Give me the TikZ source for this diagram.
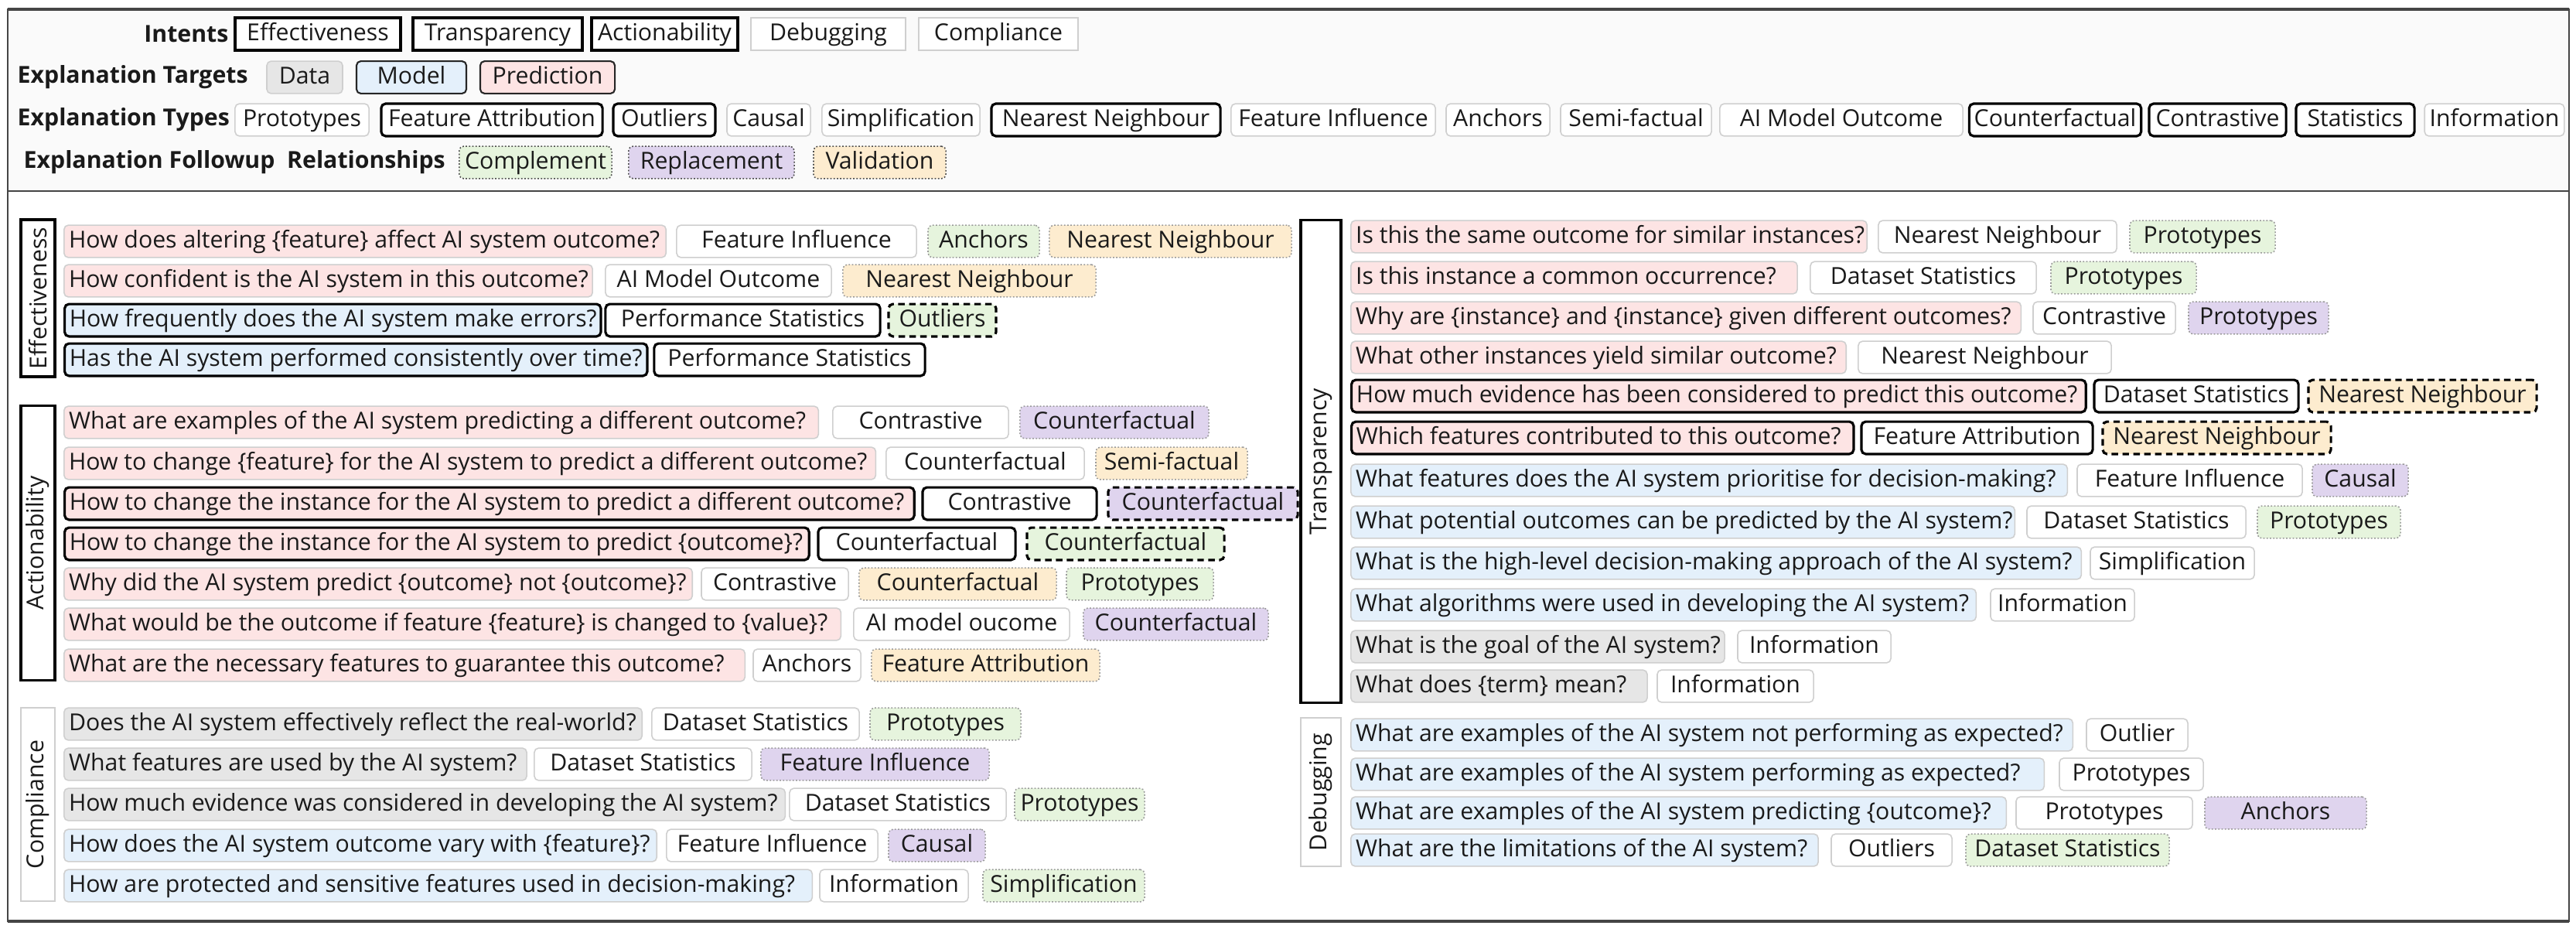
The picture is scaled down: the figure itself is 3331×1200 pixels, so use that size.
\documentclass[tikz,border=0pt]{standalone}
\usepackage{fontspec}
\setmainfont{Open Sans}
\definecolor{pinkc}{HTML}{FDE4E4}
\definecolor{bluec}{HTML}{E4F0FB}
\definecolor{grayc}{HTML}{E6E6E6}
\definecolor{greenc}{HTML}{E6F4DD}
\definecolor{purplec}{HTML}{DFD4EE}
\definecolor{orangec}{HTML}{FDECCF}
\definecolor{lineg}{HTML}{CFCFCF}
\definecolor{dotg}{HTML}{9A9A9A}
\definecolor{txt}{HTML}{1A1A1A}
\definecolor{topbg}{HTML}{FAFAFA}
\definecolor{framec}{HTML}{454545}
\tikzset{
  base/.style={rounded corners=1.6pt, inner xsep=1.8pt, inner ysep=0pt, minimum height=11.9pt,
    text height=6.5pt, text depth=1.9pt, draw=lineg, line width=0.45pt, fill=white, text=txt,
    font=\fontsize{8.6pt}{10pt}\selectfont},
  fpk/.style={fill=pinkc},
  fbl/.style={fill=bluec},
  fgy/.style={fill=grayc},
  fgn/.style={fill=greenc, draw=dotg, dash pattern=on 0.5pt off 0.7pt},
  fpu/.style={fill=purplec, draw=dotg, dash pattern=on 0.5pt off 0.7pt},
  fog/.style={fill=orangec, draw=dotg, dash pattern=on 0.5pt off 0.7pt},
  thk/.style={draw=black, line width=0.9pt},
  dsh/.style={draw=black, line width=0.9pt, dash pattern=on 2.4pt off 1.6pt},
  sq/.style={sharp corners},
  vbox/.style={draw=lineg, line width=0.45pt, fill=white, inner sep=0pt, text=txt,
    font=\fontsize{8.6pt}{10pt}\selectfont},
  lab/.style={inner sep=0pt, text=txt, font=\fontsize{8.6pt}{10pt}\selectfont\bfseries},
}
\newcommand\QB[6]{\pgfmathsetmacro\bwid{(#3-#2)*0.284528}\pgfmathsetmacro\twid{\bwid-3.6}%
  \node[base,#5,minimum width=\bwid pt,anchor=west] (#1) at (#2,#4) {\makebox[\twid pt][l]{#6}};}
\newcommand\AB[6]{\pgfmathsetmacro\bwid{(#3-#2)*0.284528}%
  \node[base,#5,minimum width=\bwid pt] (#1) at ({(#2+#3)/2},#4) {#6};}
\newcommand\VB[7]{\pgfmathsetmacro\bwid{(#5-#4)*0.284528}\pgfmathsetmacro\bhgt{(#3-#2)*0.284528}%
  \node[vbox,#6,minimum width=\bwid pt,minimum height=\bhgt pt,rotate=90] (#1) at ({(#2+#3)/2},{(#4+#5)/2}) {#7};}
\begin{document}
\begin{tikzpicture}[x=0.01cm,y=-0.01cm]
\useasboundingbox (0,0) rectangle (3331,1200);
\fill[white] (0,0) rectangle (3331,1200);
\fill[topbg] (10,12) rectangle (3322,247);
\draw[framec, line width=0.45pt] (10,12) rectangle (3322,1191);
\draw[framec, line width=1.1pt] (10,12) -- (3322,12);
\draw[framec, line width=1.1pt] (10,1191) -- (3322,1191);
\draw[framec, line width=0.45pt] (10,247) -- (3322,247);

% ---------------- legend ----------------
\node[lab,anchor=east] (lint) at (296,44) {Intents};
\AB{iE}{304}{518}{44}{thk,sq}{Effectiveness}
\AB{iT}{534}{753}{44}{thk,sq}{Transparency}
\AB{iA}{765}{954}{44}{thk,sq}{Actionability}
\AB{iD}{971}{1171}{44}{sq}{Debugging}
\AB{iC}{1188}{1394}{44}{sq}{Compliance}

\node[lab,anchor=west] (ltar) at (22,100) {Explanation Targets};
\AB{tD}{345}{443}{100}{fgy}{Data}
\AB{tM}{461}{603}{100}{fbl,draw=black!85,line width=0.6pt}{Model}
\AB{tP}{621}{795}{100}{fpk,draw=black!85,line width=0.6pt}{Prediction}

\node[lab,anchor=west] (ltyp) at (22,155) {Explanation Types};
\AB{y1}{304}{477}{155}{}{Prototypes}
\AB{y2}{493}{779}{155}{thk}{Feature Attribution}
\AB{y3}{793}{925}{155}{thk}{Outliers}
\AB{y4}{940}{1048}{155}{}{Causal}
\AB{y5}{1063}{1267}{155}{}{Simplification}
\AB{y6}{1282}{1578}{155}{thk}{Nearest Neighbour}
\AB{y7}{1592}{1856}{155}{}{Feature Influence}
\AB{y8}{1870}{2004}{155}{}{Anchors}
\AB{y9}{2018}{2213}{155}{}{Semi-factual}
\AB{y10}{2224}{2538}{155}{}{AI Model Outcome}
\AB{y11}{2548}{2767}{155}{thk}{Counterfactual}
\AB{y12}{2779}{2956}{155}{thk}{Contrastive}
\AB{y13}{2969}{3122}{155}{thk}{Statistics}
\AB{y14}{3137}{3314}{155}{}{Information}

\node[lab,anchor=west] (lfol) at (30,210) {Explanation Followup\ \ Relationships};
\AB{fC}{594}{791}{210}{fgn,draw=black!70}{Complement}
\AB{fR}{813}{1027}{210}{fpu,draw=black!70}{Replacement}
\AB{fV}{1052}{1223}{210}{fog,draw=black!70}{Validation}

% ---------------- left panel ----------------
\VB{vE}{27}{71}{284}{487}{thk}{Effectiveness}
\VB{vA}{27}{71}{525}{879}{thk}{Actionability}
\VB{vC}{27}{71}{915}{1165}{}{Compliance}

\QB{e1q}{82}{860}{312}{fpk}{How does altering \{feature\} affect AI system outcome?}
\AB{e1a}{875}{1185}{312}{}{Feature Influence}
\AB{e1b}{1200}{1344}{312}{fgn}{Anchors}
\AB{e1c}{1357}{1670}{312}{fog}{Nearest Neighbour}

\QB{e2q}{82}{765}{363}{fpk}{How confident is the AI system in this outcome?}
\AB{e2a}{783}{1075}{363}{}{AI Model Outcome}
\AB{e2b}{1090}{1417}{363}{fog}{Nearest Neighbour}

\QB{e3q}{82}{775}{414}{fbl,thk}{How frequently does the AI system make errors?}
\AB{e3a}{783}{1138}{414}{thk}{Performance Statistics}
\AB{e3b}{1149}{1288}{414}{fgn,dsh}{Outliers}

\QB{e4q}{82}{835}{465}{fbl,thk}{Has the AI system performed consistently over time?}
\AB{e4a}{846}{1196}{465}{thk}{Performance Statistics}

\QB{a1q}{82}{1057}{546}{fpk}{What are examples of the AI system predicting a different outcome?}
\AB{a1a}{1077}{1304}{546}{}{Contrastive}
\AB{a1b}{1319}{1563}{546}{fpu}{Counterfactual}

\QB{a2q}{82}{1131}{599}{fpk}{How to change \{feature\} for the AI system to predict a different outcome?}
\AB{a2a}{1146}{1402}{599}{}{Counterfactual}
\AB{a2b}{1417}{1613}{599}{fog}{Semi-factual}

\QB{a3q}{82}{1180}{651}{fpk,thk}{How to change the instance for the AI system to predict a different outcome?}
\AB{a3a}{1193}{1418}{651}{thk}{Contrastive}
\AB{a3b}{1433}{1678}{651}{fpu,dsh}{Counterfactual}

\QB{a4q}{82}{1044}{703}{fpk,thk}{How to change the instance for the AI system to predict \{outcome\}?}
\AB{a4a}{1058}{1313}{703}{thk}{Counterfactual}
\AB{a4b}{1328}{1583}{703}{fgn,dsh}{Counterfactual}

\QB{a5q}{82}{894}{755}{fpk}{Why did the AI system predict \{outcome\} not \{outcome\}?}
\AB{a5a}{907}{1097}{755}{}{Contrastive}
\AB{a5b}{1111}{1366}{755}{fog}{Counterfactual}
\AB{a5c}{1379}{1569}{755}{fgn}{Prototypes}

\QB{a6q}{82}{1086}{807}{fpk}{What would be the outcome if feature \{feature\} is changed to \{value\}?}
\AB{a6a}{1104}{1383}{807}{}{AI model oucome}
\AB{a6b}{1401}{1640}{807}{fpu}{Counterfactual}

\QB{a7q}{82}{962}{860}{fpk}{What are the necessary features to guarantee this outcome?}
\AB{a7a}{974}{1113}{860}{}{Anchors}
\AB{a7b}{1127}{1422}{860}{fog}{Feature Attribution}

\QB{c1q}{82}{829}{936}{fgy}{Does the AI system effectively reflect the real-world?}
\AB{c1a}{843}{1111}{936}{}{Dataset Statistics}
\AB{c1b}{1125}{1320}{936}{fgn}{Prototypes}

\QB{c2q}{82}{680}{988}{fgy}{What features are used by the AI system?}
\AB{c2a}{691}{972}{988}{}{Dataset Statistics}
\AB{c2b}{984}{1279}{988}{fpu}{Feature Influence}

\QB{c3q}{82}{1014}{1040}{fgy}{How much evidence was considered in developing the AI system?}
\AB{c3a}{1021}{1301}{1040}{}{Dataset Statistics}
\AB{c3b}{1312}{1480}{1040}{fgn}{Prototypes}

\QB{c4q}{82}{848}{1093}{fbl}{How does the AI system outcome vary with \{feature\}?}
\AB{c4a}{862}{1135}{1093}{}{Feature Influence}
\AB{c4b}{1149}{1274}{1093}{fpu}{Causal}

\QB{c5q}{82}{1049}{1145}{fbl}{How are protected and sensitive features used in decision-making?}
\AB{c5a}{1060}{1252}{1145}{}{Information}
\AB{c5b}{1271}{1480}{1145}{fgn}{Simplification}

% ---------------- right panel ----------------
\VB{vT}{1682}{1734}{285}{908}{thk}{Transparency}
\VB{vD}{1682}{1734}{928}{1120}{}{Debugging}

\QB{t1q}{1746}{2413}{306}{fpk}{Is this the same outcome for similar instances?}
\AB{t1a}{2429}{2737}{306}{}{Nearest Neighbour}
\AB{t1b}{2754}{2942}{306}{fgn}{Prototypes}

\QB{t2q}{1746}{2323}{359}{fpk}{Is this instance a common occurrence?}
\AB{t2a}{2341}{2633}{359}{}{Dataset Statistics}
\AB{t2b}{2652}{2840}{359}{fgn}{Prototypes}

\QB{t3q}{1746}{2612}{411}{fpk}{Why are \{instance\} and \{instance\} given different outcomes?}
\AB{t3a}{2629}{2813}{411}{}{Contrastive}
\AB{t3b}{2830}{3011}{411}{fpu}{Prototypes}

\QB{t4q}{1746}{2386}{462}{fpk}{What other instances yield similar outcome?}
\AB{t4a}{2403}{2730}{462}{}{Nearest Neighbour}

\QB{t5q}{1746}{2695}{512}{fpk,thk}{How much evidence has been considered to predict this outcome?}
\AB{t5a}{2708}{2972}{512}{thk}{Dataset Statistics}
\AB{t5b}{2985}{3280}{512}{fog,dsh}{Nearest Neighbour}

\QB{t6q}{1746}{2395}{566}{fpk,thk}{Which features contributed to this outcome?}
\AB{t6a}{2407}{2706}{566}{thk}{Feature Attribution}
\AB{t6b}{2719}{3014}{566}{fog,dsh}{Nearest Neighbour}

\QB{t7q}{1746}{2672}{621}{fbl}{What features does the AI system prioritise for decision-making?}
\AB{t7a}{2686}{2977}{621}{}{Feature Influence}
\AB{t7b}{2990}{3114}{621}{fpu}{Causal}

\QB{t8q}{1746}{2604}{675}{fbl}{What potential outcomes can be predicted by the AI system?}
\AB{t8a}{2621}{2904}{675}{}{Dataset Statistics}
\AB{t8b}{2919}{3104}{675}{fgn}{Prototypes}

\QB{t9q}{1746}{2690}{728}{fbl}{What is the high-level decision-making approach of the AI system?}
\AB{t9a}{2703}{2915}{728}{}{Simplification}

\QB{t10q}{1746}{2554}{782}{fbl}{What algorithms were used in developing the AI system?}
\AB{t10a}{2574}{2760}{782}{}{Information}

\QB{t11q}{1746}{2229}{836}{fgy}{What is the goal of the AI system?}
\AB{t11a}{2247}{2445}{836}{}{Information}

\QB{t12q}{1746}{2129}{887}{fgy}{What does \{term\} mean?}
\AB{t12a}{2143}{2345}{887}{}{Information}

\QB{d1q}{1746}{2679}{950}{fbl}{What are examples of the AI system not performing as expected?}
\AB{d1a}{2698}{2829}{950}{}{Outlier}

\QB{d2q}{1746}{2642}{1001}{fbl}{What are examples of the AI system performing as expected?}
\AB{d2a}{2663}{2849}{1001}{}{Prototypes}

\QB{d3q}{1746}{2593}{1051}{fbl}{What are examples of the AI system predicting \{outcome\}?}
\AB{d3a}{2607}{2835}{1051}{}{Prototypes}
\AB{d3b}{2851}{3060}{1051}{fpu}{Anchors}

\QB{d4q}{1746}{2350}{1099}{fbl}{What are the limitations of the AI system?}
\AB{d4a}{2368}{2524}{1099}{}{Outliers}
\AB{d4b}{2542}{2805}{1099}{fgn}{Dataset Statistics}
\end{tikzpicture}
\end{document}
